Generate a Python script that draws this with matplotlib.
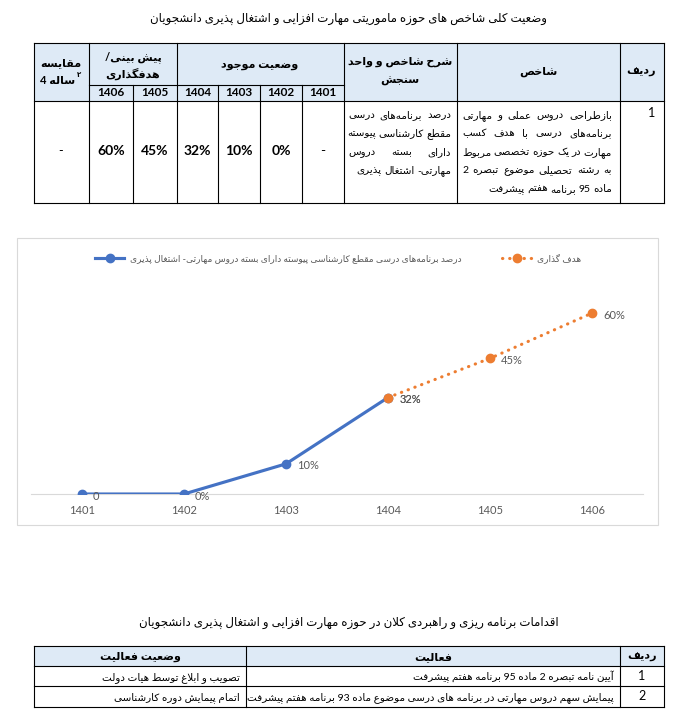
import re
import matplotlib
matplotlib.use("Agg")
import matplotlib.pyplot as plt
from matplotlib.lines import Line2D
from matplotlib.patches import Rectangle

plt.rcParams['font.family'] = ['Lato', 'DejaVu Sans']

# ---------------- data ----------------
years = ['1401', '1402', '1403', '1404', '1405', '1406']
actual = [0.0, 0.0, 0.10, 0.32, None, None]
actual_labels = ['0', '0%', '10%', '32%', '', '']
target = [None, None, None, 0.32, 0.45, 0.60]
target_labels = ['', '', '', '32%', '45%', '60%']
table_cells = ['-', '0%', '10%', '32%', '45%', '60%']
compare_cell = '-'

title1 = 'وضعیت کلی شاخص های حوزه ماموریتی مهارت افزایی و اشتغال پذیری دانشجویان'
title2 = 'اقدامات برنامه ریزی و راهبردی کلان در حوزه مهارت افزایی و اشتغال پذیری دانشجویان'
legend_actual = 'درصد برنامه\u200cهای درسی مقطع کارشناسی پیوسته دارای بسته دروس مهارتی- اشتغال پذیری'
legend_target = 'هدف گذاری'

hdr_radif = 'ردیف'
hdr_shakhes = 'شاخص'
hdr_sharh = ['شرح شاخص و واحد', 'سنجش']
hdr_status = 'وضعیت موجود'
hdr_forecast = ['پیش بینی/', 'هدفگذاری']
hdr_compare = ['مقایسه', 'ساله 4']
hdr_note = '۲'
row_no = '1'
shakhes_lines = ['بازطراحی دروس عملی و مهارتی',
                 'برنامه\u200cهای درسی با هدف کسب',
                 'مهارت در یک حوزه تخصصی مربوط',
                 'به رشته تحصیلی موضوع تبصره 2',
                 'ماده 95 برنامه هفتم پیشرفت']
sharh_lines = ['درصد برنامه\u200cهای درسی',
               'مقطع کارشناسی پیوسته',
               'دارای بسته دروس',
               'مهارتی- اشتغال پذیری']

t2_headers = ['ردیف', 'فعالیت', 'وضعیت فعالیت']
t2_rows = [['1', 'آیین نامه تبصره 2 ماده 95 برنامه هفتم پیشرفت', 'تصویب و ابلاغ توسط هیات دولت'],
           ['2', 'پیمایش سهم دروس مهارتی در برنامه های درسی موضوع ماده 93 برنامه هفتم پیشرفت',
            'اتمام پیمایش دوره کارشناسی']]

# ---------------- Arabic-script shaping (render-time) ----------------
_FORMS = {}
def _add(ch, start, kind):
    if kind == 4:
        _FORMS[ch] = tuple(chr(start + k) for k in range(4))
    elif kind == 2:
        _FORMS[ch] = (chr(start), chr(start + 1), None, None)
    else:
        _FORMS[ch] = (chr(start), None, None, None)

_add('\u0621', 0xFE80, 1)
for ch, st in [('\u0622', 0xFE81), ('\u0623', 0xFE83), ('\u0624', 0xFE85), ('\u0625', 0xFE87),
               ('\u0627', 0xFE8D), ('\u0629', 0xFE93), ('\u062F', 0xFEA9), ('\u0630', 0xFEAB),
               ('\u0631', 0xFEAD), ('\u0632', 0xFEAF), ('\u0648', 0xFEED), ('\u0649', 0xFEEF),
               ('\u0698', 0xFB8A)]:
    _add(ch, st, 2)
for ch, st in [('\u0626', 0xFE89), ('\u0628', 0xFE8F), ('\u062A', 0xFE95), ('\u062B', 0xFE99),
               ('\u062C', 0xFE9D), ('\u062D', 0xFEA1), ('\u062E', 0xFEA5), ('\u0633', 0xFEB1),
               ('\u0634', 0xFEB5), ('\u0635', 0xFEB9), ('\u0636', 0xFEBD), ('\u0637', 0xFEC1),
               ('\u0638', 0xFEC5), ('\u0639', 0xFEC9), ('\u063A', 0xFECD), ('\u0641', 0xFED1),
               ('\u0642', 0xFED5), ('\u0643', 0xFED9), ('\u0644', 0xFEDD), ('\u0645', 0xFEE1),
               ('\u0646', 0xFEE5), ('\u0647', 0xFEE9), ('\u064A', 0xFEF1), ('\u067E', 0xFB56),
               ('\u0686', 0xFB7A), ('\u06A9', 0xFB8E), ('\u06AF', 0xFB92), ('\u06CC', 0xFBFC)]:
    _add(ch, st, 4)
_LAMALEF = {'\u0622': ('\uFEF5', '\uFEF6'), '\u0623': ('\uFEF7', '\uFEF8'),
            '\u0625': ('\uFEF9', '\uFEFA'), '\u0627': ('\uFEFB', '\uFEFC')}

def _jl(c):
    return c in _FORMS and _FORMS[c][2] is not None

def _jr(c):
    return c in _FORMS and _FORMS[c][1] is not None

def shape(s):
    res = []
    i, n = 0, len(s)
    while i < n:
        c = s[i]
        if c not in _FORMS:
            res.append(c); i += 1; continue
        prev = s[i - 1] if i > 0 else ''
        cp = _jl(prev) and _jr(c)
        if c == '\u0644' and i + 1 < n and s[i + 1] in _LAMALEF:
            iso, fin = _LAMALEF[s[i + 1]]
            res.append(fin if cp else iso); i += 2; continue
        nxt = s[i + 1] if i + 1 < n else ''
        cn = _jl(c) and _jr(nxt)
        iso, fin, ini, med = _FORMS[c]
        res.append(med if (cp and cn) else fin if cp else ini if cn else iso)
        i += 1
    return ''.join(res).replace('\u200c', '')

_LTR = r'[0-9A-Za-z%.]'
def rtl(s):
    s = shape(s)
    runs = re.findall(_LTR + r'+|[^0-9A-Za-z%.]+', s)
    out = [r if re.match(_LTR, r) else r[::-1] for r in runs]
    return ''.join(out[::-1])

# ---------------- figure ----------------
W, H = 683, 722
fig = plt.figure(figsize=(W / 100, H / 100), dpi=100)
fig.patch.set_facecolor('white')
bg = fig.add_axes([0, 0, 1, 1])
bg.set_xlim(0, W); bg.set_ylim(H, 0); bg.axis('off')
renderer = fig.canvas.get_renderer()

def T(x, y, s, size=8.5, weight='normal', ha='center', color='black'):
    return bg.text(x, y, rtl(s), fontsize=size, fontweight=weight, ha=ha, va='baseline', color=color)

def justify(words_line, xr, xl, y, size, last=False):
    words = words_line.split(' ')
    ts = [bg.text(0, y, rtl(w), fontsize=size, ha='left', va='baseline') for w in words]
    ws = [t.get_window_extent(renderer).width for t in ts]
    gap = size * 0.35
    if not last and len(words) > 1:
        gap = max(2.5, (xr - xl - sum(ws)) / (len(words) - 1))
    x = xr
    for t, w in zip(ts, ws):
        t.set_x(x - w)
        x -= w + gap

def hline(x0, x1, y, lw=0.8):
    bg.plot([x0, x1], [y, y], color='black', lw=lw, solid_capstyle='projecting')

def vline(x, y0, y1, lw=0.8):
    bg.plot([x, x], [y0, y1], color='black', lw=lw, solid_capstyle='projecting')

HDR = '#deeaf6'

# ---- title 1 ----
T(349, 22, title1, size=8.5)

# ---- table 1 ----
L, R = 34, 664
cx = [89, 133, 177, 218, 260, 302, 344]  # 1406..1401 boundaries
c_sharh, c_shakhes, c_radif = 344, 457, 620
top, ymid, yhb, ybot = 43, 85, 101, 203
bg.add_patch(Rectangle((L, top), R - L, yhb - top, facecolor=HDR, edgecolor='none', zorder=0))
hline(L, R, top); hline(L, R, yhb); hline(L, R, ybot)
hline(cx[0], cx[-1], ymid)
for x in [L, 89, 177, c_sharh, c_shakhes, c_radif, R]:
    vline(x, top, ybot)
for x in [133, 218, 260, 302]:
    vline(x, ymid, ybot)

T(61, 66, hdr_compare[0], size=8, weight='bold')
T(58, 84, hdr_compare[1], size=8, weight='bold')
bg.text(79, 75, hdr_note, fontsize=5, fontweight='bold', ha='center', va='center',
        family=['DejaVu Sans'])
T(133, 60, hdr_forecast[0], size=8, weight='bold')
T(133, 78, hdr_forecast[1], size=8, weight='bold')
T(260, 68, hdr_status, size=8, weight='bold')
T(400, 65, hdr_sharh[0], size=8, weight='bold')
T(400, 84, hdr_sharh[1], size=8, weight='bold')
T(538, 75, hdr_shakhes, size=8, weight='bold')
T(641, 75, hdr_radif, size=8, weight='bold')

# year row and values: columns right-to-left are 1401..1406
col_centers = [(cx[6 - i] + cx[5 - i]) / 2 for i in range(6)]
for xc, yr, val in zip(col_centers, years, table_cells):
    bg.text(xc, 93, yr, fontsize=8.5, fontweight='bold', ha='center', va='center')
    bg.text(xc, 151, val, fontsize=10, fontweight='bold' if val != '-' else 'normal',
            ha='center', va='center')
bg.text(61, 151, compare_cell, fontsize=9, ha='center', va='center')
bg.text(655, 113, row_no, fontsize=9, ha='right', va='center')

ys = [118, 136, 155, 173, 192]
for k, line in enumerate(shakhes_lines):
    justify(line, 612, 462, ys[k], 7.5, last=(k == len(shakhes_lines) - 1))
for k, line in enumerate(sharh_lines):
    justify(line, 451, 348, ys[k], 7.5, last=(k == len(sharh_lines) - 1))

# ---- chart frame ----
bg.add_patch(Rectangle((17, 238), 658 - 17, 525 - 238, facecolor='white',
                       edgecolor='#d9d9d9', lw=0.8, zorder=0))

ax = fig.add_axes([31 / W, 1 - 494 / H, (643 - 31) / W, (494 - 283) / H])
ax.patch.set_alpha(0)
xs = list(range(len(years)))
blue, orange, grey = '#4472c4', '#ed7d31', '#595959'
ax.set_xlim(-0.5, len(years) - 0.5)
ax.set_ylim(0, 0.7)
ax_x = [x for x, v in zip(xs, actual) if v is not None]
ax_y = [v for v in actual if v is not None]
tg_x = [x for x, v in zip(xs, target) if v is not None]
tg_y = [v for v in target if v is not None]
ax.plot(ax_x, ax_y, color=blue, lw=2.25, marker='o', ms=6, solid_capstyle='round', zorder=3)
ax.plot(tg_x, tg_y, color=orange, lw=2.25, linestyle=(0, (0.1, 2.2)), dash_capstyle='round',
        marker='o', ms=6, zorder=4)
for x, v, lab in zip(xs, actual, actual_labels):
    if v is not None and lab:
        ax.annotate(lab, (x, v), xytext=(8, -1.5), textcoords='offset points', fontsize=8,
                    color=grey, ha='left', va='center')
for x, v, lab in zip(xs, target, target_labels):
    if v is not None and lab:
        ax.annotate(lab, (x, v), xytext=(8, -1.5), textcoords='offset points', fontsize=8,
                    color=grey, ha='left', va='center')
ax.set_xticks(xs)
ax.set_xticklabels(years, fontsize=8, color=grey)
ax.tick_params(axis='x', length=0, pad=8)
ax.set_yticks([])
for sp in ['top', 'left', 'right']:
    ax.spines[sp].set_visible(False)
ax.spines['bottom'].set_color('#d9d9d9')
ax.spines['bottom'].set_linewidth(0.8)

handles = [Line2D([], [], color=blue, lw=2.25, marker='o', ms=6),
           Line2D([], [], color=orange, lw=2.25, linestyle=(0, (0.1, 2.2)), dash_capstyle='round',
                  marker='o', ms=6)]
fig.legend(handles, [rtl(legend_actual), rtl(legend_target)], loc='center',
           bbox_to_anchor=(338 / W, 1 - 258 / H), ncol=2, frameon=False, fontsize=6.5,
           labelcolor=grey, handlelength=3.3, columnspacing=4.5, handletextpad=0.6)

# ---- title 2 and table 2 ----
T(349, 626, title2, size=8.5)
t2x = [34, 246, 620, 664]
t2y = [646, 666, 686, 707]
bg.add_patch(Rectangle((t2x[0], t2y[0]), t2x[-1] - t2x[0], t2y[1] - t2y[0], facecolor=HDR,
                       edgecolor='none', zorder=0))
for y in t2y:
    hline(t2x[0], t2x[-1], y)
for x in t2x:
    vline(x, t2y[0], t2y[-1])
T((t2x[2] + t2x[3]) / 2, 660, t2_headers[0], size=8, weight='bold')
T((t2x[1] + t2x[2]) / 2, 660, t2_headers[1], size=8, weight='bold')
T((t2x[0] + t2x[1]) / 2, 660, t2_headers[2], size=8, weight='bold')
for k, row in enumerate(t2_rows):
    yc = (t2y[k + 1] + t2y[k + 2]) / 2
    bg.text((t2x[2] + t2x[3]) / 2, yc, row[0], fontsize=9, ha='center', va='center')
    T(t2x[2] - 6, yc + 4, row[1], size=7.5, ha='right')
    T(t2x[1] - 6, yc + 4, row[2], size=7.5, ha='right')

fig.savefig('out.png', dpi=100, facecolor='white')
